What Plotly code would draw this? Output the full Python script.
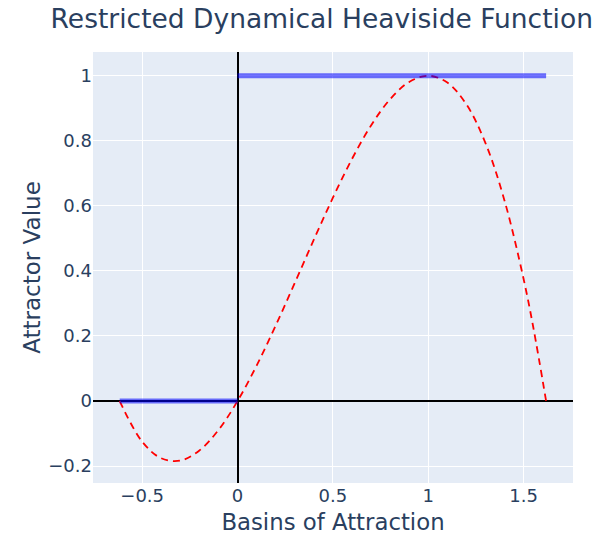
import plotly.graph_objects as go

# Step (restricted Heaviside) segments
step_low_x = [-0.618, 0.0]
step_low_y = [0.0, 0.0]
step_high_x = [0.0, 1.618]
step_high_y = [1.0, 1.0]

# Dashed attractor curve
curve_x = [-0.618, -0.5, -0.4, -0.3, -0.2, -0.1, 0.0, 0.1, 0.2, 0.3, 0.4, 0.5,
           0.6, 0.7, 0.8, 0.9, 1.0, 1.1, 1.2, 1.3, 1.4, 1.5, 1.55, 1.618]
curve_y = [0.0, -0.125, -0.176, -0.183, -0.152, -0.089, 0.0, 0.109, 0.232, 0.363,
           0.496, 0.625, 0.744, 0.847, 0.928, 0.981, 1.0, 0.979, 0.912, 0.793,
           0.616, 0.375, 0.229, 0.0]

x_ticks = [-0.5, 0, 0.5, 1, 1.5]
x_tick_text = ["−0.5", "0", "0.5", "1", "1.5"]
y_ticks = [-0.2, 0, 0.2, 0.4, 0.6, 0.8, 1]
y_tick_text = ["−0.2", "0", "0.2", "0.4", "0.6", "0.8", "1"]

fig = go.Figure()
fig.add_trace(go.Scatter(x=curve_x, y=curve_y, mode="lines",
                         line=dict(color="red", width=1.8, dash="7px,5px", shape="spline"),
                         showlegend=False))
fig.add_trace(go.Scatter(x=step_low_x, y=step_low_y, mode="lines",
                         line=dict(color="blue", width=5), opacity=0.55,
                         showlegend=False))
fig.add_trace(go.Scatter(x=step_high_x, y=step_high_y, mode="lines",
                         line=dict(color="blue", width=5), opacity=0.55,
                         showlegend=False))

fig.update_layout(
    template="plotly",
    width=597, height=540,
    margin=dict(l=93, r=24, t=52, b=57),
    title=dict(text="Restricted Dynamical Heaviside Function", x=0.539, xanchor="center",
               y=0.966, yanchor="middle", font=dict(size=26.5)),
    font=dict(size=18, family="DejaVu Sans"),
    xaxis=dict(title=dict(text="Basins of Attraction", font=dict(size=22.8), standoff=9),
               range=[-0.758, 1.759], tickvals=x_ticks, ticktext=x_tick_text,
               automargin=False,
               zeroline=True, zerolinecolor="black", zerolinewidth=2),
    yaxis=dict(title=dict(text="Attractor Value", font=dict(size=23), standoff=1),
               range=[-0.252, 1.073], tickvals=y_ticks, ticktext=y_tick_text,
               automargin=False,
               zeroline=True, zerolinecolor="black", zerolinewidth=2),
)

fig.write_html("out.html")
